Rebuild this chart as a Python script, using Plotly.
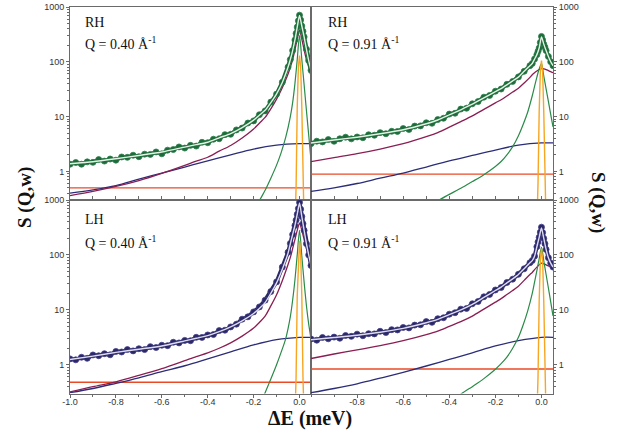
import plotly.graph_objects as go

# ---------------- data ----------------
XD = [-1.0, -0.975, -0.95, -0.925, -0.9, -0.875, -0.85, -0.825, -0.8, -0.775,
      -0.75, -0.725, -0.7, -0.675, -0.65, -0.625, -0.6, -0.575, -0.55, -0.525,
      -0.5, -0.475, -0.45, -0.425, -0.4, -0.375, -0.35, -0.325, -0.3, -0.275,
      -0.25, -0.225, -0.2, -0.175, -0.15, -0.125, -0.1, -0.075, -0.05,
      -0.04, -0.03, -0.02, -0.015, -0.01, -0.005, 0.0, 0.005, 0.01, 0.015, 0.02,
      0.03, 0.04, 0.05]
XC = [-1.0, -0.9, -0.8, -0.7, -0.6, -0.5, -0.45, -0.4, -0.35, -0.3, -0.25, -0.2,
      -0.175, -0.15, -0.125, -0.1, -0.075, -0.05, -0.04, -0.03, -0.02, -0.01, 0.0,
      0.01, 0.02, 0.03, 0.04, 0.05]
XN = [-1.0, -0.9, -0.8, -0.7, -0.6, -0.5, -0.4, -0.3, -0.2, -0.1, 0.0, 0.05]
XG = [-0.45, -0.4, -0.35, -0.3, -0.25, -0.2, -0.175, -0.15, -0.125, -0.1, -0.08,
      -0.06, -0.04, -0.03, -0.02, -0.01, 0.0, 0.01, 0.02, 0.03, 0.04, 0.05]
XO = [-0.02, -0.015, -0.01, -0.005, 0.0, 0.005, 0.01, 0.015, 0.02]
XE = [-1.0, 0.05]

# RH, Q = 0.40
TL_DATA = [1.35, 1.45, 1.35, 1.49, 1.46, 1.64, 1.54, 1.68, 1.6, 1.83, 1.8, 1.97, 1.85,
           2.06, 2.04, 2.26, 2.09, 2.44, 2.5, 2.79, 2.66, 2.98, 2.89, 3.39, 3.33, 3.86,
           3.94, 4.68, 4.75, 5.71, 6.17, 7.62, 8.34, 10.8, 12.7, 18.4, 25.7, 42.4, 80,
           110, 160, 250, 330, 430, 560, 710, 580, 450, 360, 285, 170, 105, 70]
TL_FIT = [1.38, 1.5, 1.7, 1.95, 2.25, 2.77, 3.07, 3.4, 4.1, 4.9, 6.3, 8.6, 10.6, 13,
          18, 26, 42, 80, 110, 160, 250, 430, 700, 450, 285, 170, 105, 70]
TL_MAROON = [0.36, 0.43, 0.53, 0.68, 0.92, 1.29, 1.54, 1.81, 2.34, 2.97, 4.06, 5.93,
             7.57, 9.63, 13.8, 20.8, 33.6, 60, 80, 110, 165, 260, 380, 260, 165, 110,
             80, 55]
TL_NAVY = [0.4, 0.46, 0.55, 0.72, 0.93, 1.2, 1.55, 2.0, 2.55, 3.0, 3.2, 3.2]
TL_GREEN = [0.005, 0.01, 0.02, 0.04, 0.08, 0.17, 0.29, 0.45, 0.75, 1.3, 2.2, 4.2, 10,
            18, 40, 110, 300, 110, 38, 13, 4.6, 1.6]
TL_ORANGE = [0.1, 0.5, 15, 80, 130, 80, 15, 0.5, 0.1]
TL_BG = [0.5, 0.5]

# RH, Q = 0.91
TR_DATA = [3.2, 3.55, 3.45, 3.8, 3.54, 3.93, 4.2, 3.92, 4.24, 4.11, 4.65, 4.56, 5.09,
           4.86, 5.38, 5.34, 6.04, 5.81, 6.7, 6.76, 7.7, 7.54, 8.82, 9.31, 11.1, 11.5,
           13.7, 14.2, 17.1, 18.8, 22.6, 24.3, 29.0, 31.8, 38.8, 43.8, 53, 67, 85,
           93, 112, 135, 155, 178, 225, 290, 250, 210, 185, 160, 125, 100, 85]
TR_FIT = [3.3, 3.73, 4.2, 4.85, 5.75, 7.4, 8.65, 10.7, 13.3, 16.8, 21.9, 28.4, 32.4,
          38, 44.7, 52.5, 67, 85, 93, 112, 135, 178, 285, 210, 160, 125, 100, 85]
TR_MAROON = [1.5, 1.78, 2.1, 2.55, 3.2, 4.3, 5.1, 6.4, 8.1, 10.3, 13.5, 17.8, 20.3,
              23.8, 28, 32.8, 41, 52, 58, 63, 68, 72, 75, 74, 72, 69, 66, 63]
TR_NAVY = [0.43, 0.5, 0.6, 0.75, 0.93, 1.2, 1.55, 1.95, 2.45, 3.0, 3.3, 3.3]
TR_GREEN = [0.29, 0.38, 0.49, 0.65, 0.87, 1.23, 1.51, 2.0, 2.82, 4.47, 7.1, 12, 24,
            35.5, 52.5, 74, 93, 55, 32, 19, 11, 6.5]
TR_ORANGE = [0.1, 0.6, 12, 65, 105, 65, 12, 0.6, 0.1]
TR_BG = [0.89, 0.89]

# LH, Q = 0.40
BL_DATA = [1.28, 1.23, 1.37, 1.31, 1.51, 1.46, 1.59, 1.52, 1.75, 1.71, 1.89, 1.79, 1.96,
           1.89, 2.14, 2.06, 2.27, 2.23, 2.57, 2.5, 2.78, 2.74, 3.16, 3.15, 3.49, 3.55,
           4.19, 4.26, 4.89, 5.49, 6.76, 7.47, 9.18, 11.3, 15, 21.5, 32.3, 60, 112,
           162, 235, 343, 430, 550, 700, 900, 680, 500, 370, 280, 160, 100, 64]
BL_FIT = [1.25, 1.44, 1.68, 1.92, 2.2, 2.73, 3.04, 3.39, 4.0, 4.9, 6.3, 8.6, 10.6,
          13.5, 20, 31, 55, 108, 160, 235, 343, 550, 880, 500, 280, 160, 100, 64]
BL_MAROON = [0.32, 0.4, 0.49, 0.64, 0.85, 1.19, 1.41, 1.65, 2.0, 2.51, 3.32, 4.65, 5.9,
             7.7, 11.8, 18.8, 34, 67, 90, 130, 190, 280, 380, 280, 190, 130, 90, 55]
BL_NAVY = [0.31, 0.37, 0.46, 0.58, 0.75, 0.96, 1.28, 1.72, 2.3, 2.87, 3.15, 3.15]
BL_GREEN = [0.005, 0.01, 0.02, 0.03, 0.05, 0.1, 0.18, 0.31, 0.55, 1.0, 1.7, 3.0, 7.5,
            15, 35, 100, 280, 95, 32, 12, 5.5, 3.0]
BL_ORANGE = [0.1, 0.6, 18, 100, 180, 100, 18, 0.6, 0.1]
BL_BG = [0.48, 0.48]

# LH, Q = 0.91
BR_DATA = [2.95, 2.8, 3.14, 2.97, 3.19, 3.04, 3.41, 3.29, 3.61, 3.38, 3.68, 3.65, 4.07,
           3.86, 4.36, 4.31, 4.78, 4.69, 5.28, 5.34, 6.11, 5.92, 6.9, 7.19, 8.34, 8.86,
           10.3, 10.6, 12.9, 14.2, 17.3, 19.1, 23, 25.5, 31.5, 36.2, 44.4, 56, 72,
           79, 95, 141, 172, 209, 260, 320, 255, 200, 160, 126, 89, 71, 60]
BR_FIT = [2.86, 3.13, 3.44, 3.91, 4.6, 5.82, 6.7, 8.18, 9.98, 12.6, 16.8, 22.5, 26,
          30.9, 36.6, 44, 56, 72, 79, 95, 141, 209, 310, 200, 126, 89, 71, 60]
BR_MAROON = [1.3, 1.57, 1.86, 2.23, 2.74, 3.53, 4.1, 5.0, 6.1, 7.7, 10.3, 13.8, 16,
             19, 22.5, 27, 34.4, 44, 48, 54, 60, 66, 71, 69, 66, 63, 60, 57]
BR_NAVY = [0.31, 0.37, 0.45, 0.57, 0.73, 0.95, 1.25, 1.65, 2.2, 2.75, 3.16, 3.16]
BR_GREEN = [0.12, 0.18, 0.29, 0.4, 0.56, 0.83, 1.05, 1.38, 2.0, 3.16, 5.25, 9.5, 20,
            32, 52, 85, 138, 78, 44, 25, 14, 7.8]
BR_ORANGE = [0.1, 0.6, 14, 80, 130, 80, 14, 0.6, 0.1]
BR_BG = [0.84, 0.84]

SAMPLES = ["RH", "RH", "LH", "LH"]
Q_LABELS = ["Q = 0.40 Å<sup>-1</sup>", "Q = 0.91 Å<sup>-1</sup>",
            "Q = 0.40 Å<sup>-1</sup>", "Q = 0.91 Å<sup>-1</sup>"]
Y_TICKS = [1, 10, 100, 1000]
Y_TICK_TEXT = ["1", "10", "100", "1000"]
Y_MINOR = [0.4, 0.5, 0.6, 0.7, 0.8, 0.9, 2, 3, 4, 5, 6, 7, 8, 9,
           20, 30, 40, 50, 60, 70, 80, 90, 200, 300, 400, 500, 600, 700, 800, 900]
X_TICKS_LEFT = [-1.0, -0.8, -0.6, -0.4, -0.2, 0.0]
X_TICK_TEXT_LEFT = ["-1.0", "-0.8", "-0.6", "-0.4", "-0.2", "0.0"]
X_TICKS_RIGHT = [-0.8, -0.6, -0.4, -0.2, 0.0]
X_TICK_TEXT_RIGHT = ["-0.8", "-0.6", "-0.4", "-0.2", "0.0"]
X_MINOR = [-1.0, -0.9, -0.8, -0.7, -0.6, -0.5, -0.4, -0.3, -0.2, -0.1, 0.0]

# ---------------- styling ----------------
SERIF = "Liberation Serif, Times New Roman, serif"
SANS = "Liberation Sans, Arial, sans-serif"
C_RED = "#ea4a26"
C_NAVY = "#2b2d78"
C_MAROON = "#8a1e52"
C_GREEN = "#2a8a48"
C_ORANGE = "#f6a623"
C_AXIS = "#6a6a6a"

panels = [
    dict(data=TL_DATA, fit=TL_FIT, maroon=TL_MAROON, navy=TL_NAVY, green=TL_GREEN,
         orange=TL_ORANGE, bg=TL_BG, x="x", y="y", mk="#1d6a3a", mkl="#2f7f4c", fitc="#e3f2e3"),
    dict(data=TR_DATA, fit=TR_FIT, maroon=TR_MAROON, navy=TR_NAVY, green=TR_GREEN,
         orange=TR_ORANGE, bg=TR_BG, x="x2", y="y2", mk="#1d6a3a", mkl="#2f7f4c", fitc="#e3f2e3"),
    dict(data=BL_DATA, fit=BL_FIT, maroon=BL_MAROON, navy=BL_NAVY, green=BL_GREEN,
         orange=BL_ORANGE, bg=BL_BG, x="x3", y="y3", mk="#2a2966", mkl="#45408a", fitc="#e0dcf0"),
    dict(data=BR_DATA, fit=BR_FIT, maroon=BR_MAROON, navy=BR_NAVY, green=BR_GREEN,
         orange=BR_ORANGE, bg=BR_BG, x="x4", y="y4", mk="#2a2966", mkl="#45408a", fitc="#e0dcf0"),
]

fig = go.Figure()
for p in panels:
    ax = dict(xaxis=p["x"], yaxis=p["y"], showlegend=False, hoverinfo="skip")
    fig.add_trace(go.Scatter(x=XE, y=p["bg"], mode="lines",
                             line=dict(color=C_RED, width=1.4), **ax))
    fig.add_trace(go.Scatter(x=XN, y=p["navy"], mode="lines",
                             line=dict(color=C_NAVY, width=1.3, shape="spline", smoothing=1), **ax))
    fig.add_trace(go.Scatter(x=XC, y=p["maroon"], mode="lines",
                             line=dict(color=C_MAROON, width=1.3, shape="spline", smoothing=0.8), **ax))
    fig.add_trace(go.Scatter(x=XD, y=p["data"], mode="lines+markers",
                             line=dict(color=p["mk"], width=4),
                             marker=dict(symbol="circle", size=6, color=p["mk"],
                                         line=dict(color=p["mkl"], width=0.8)), **ax))
    fig.add_trace(go.Scatter(x=XC, y=p["fit"], mode="lines",
                             line=dict(color=p["fitc"], width=1.4, shape="spline", smoothing=0.6), **ax))
    fig.add_trace(go.Scatter(x=XG, y=p["green"], mode="lines",
                             line=dict(color=C_GREEN, width=1.2, shape="spline", smoothing=0.8), **ax))
    fig.add_trace(go.Scatter(x=XO, y=p["orange"], mode="lines",
                             line=dict(color=C_ORANGE, width=1.4), **ax))

W, H = 622, 443
XL = [70 / W, 311 / W]
XR = [311 / W, 553 / W]
YT = [1 - 200 / H, 1 - 7 / H]
YB = [1 - 393.5 / H, 1 - 200 / H]
YRANGE = [-0.523, 3.0]
XRANGE = [-1.0, 0.05]

tickfont = dict(family=SANS, size=9, color="#333333")

def xax(domain, anchor, labels, vals=None, text=None):
    d = dict(domain=domain, anchor=anchor, range=XRANGE, showgrid=False, zeroline=False,
             showline=True, linecolor=C_AXIS, linewidth=1, mirror=True, automargin=False,
             tickfont=tickfont, tickcolor=C_AXIS)
    if labels:
        d.update(tickmode="array", tickvals=vals, ticktext=text, ticks="outside", ticklen=3,
                 ticklabelstandoff=-3,
                 minor=dict(tickmode="array", tickvals=X_MINOR, ticks="outside",
                            ticklen=2, tickcolor=C_AXIS))
    else:
        d.update(tickmode="array", tickvals=X_MINOR, ticks="inside", ticklen=4,
                 showticklabels=False)
    return d

def yax(domain, anchor, side):
    return dict(domain=domain, anchor=anchor, type="log", range=YRANGE, side=side,
                showgrid=False, zeroline=False, showline=True, linecolor=C_AXIS,
                linewidth=1, mirror=True, automargin=False, tickmode="array",
                tickvals=Y_TICKS, ticktext=Y_TICK_TEXT, ticks="outside", ticklen=3,
                tickcolor=C_AXIS, tickfont=tickfont,
                minor=dict(tickmode="array", tickvals=Y_MINOR, ticks="outside",
                           ticklen=2, tickcolor=C_AXIS))

annotations = []
pos = [(83, 22, 43), (326, 22, 43), (83, 220, 242), (326, 220, 242)]
for (px, y1, y2), s, q in zip(pos, SAMPLES, Q_LABELS):
    annotations.append(dict(x=px / W, y=1 - y1 / H, xref="paper", yref="paper", text=s,
                            showarrow=False, xanchor="left", yanchor="middle",
                            font=dict(family=SERIF, size=14, color="#111111")))
    annotations.append(dict(x=px / W, y=1 - y2 / H, xref="paper", yref="paper", text=q,
                            showarrow=False, xanchor="left", yanchor="middle",
                            font=dict(family=SERIF, size=14, color="#111111")))
annotations.append(dict(x=12 / W, y=1 - 198 / H, xref="paper", yref="paper",
                        text="<b>S (Q,w)</b>", textangle=-90, showarrow=False,
                        font=dict(family=SERIF, size=19, color="#111111")))
annotations.append(dict(x=611 / W, y=1 - 202 / H, xref="paper", yref="paper",
                        text="<b>S (Q,w)</b>", textangle=90, showarrow=False,
                        font=dict(family=SERIF, size=19, color="#111111")))
annotations.append(dict(x=310 / W, y=1 - 431 / H, xref="paper", yref="paper",
                        text="<b>ΔE (meV)</b>", showarrow=False, borderpad=0,
                        font=dict(family=SERIF, size=20, color="#111111")))

fig.update_layout(
    template="none",
    width=W, height=H, margin=dict(l=0, r=0, t=0, b=0, pad=0), autosize=False,
    paper_bgcolor="white", plot_bgcolor="white",
    xaxis=xax(XL, "y", False), yaxis=yax(YT, "x", "left"),
    xaxis2=xax(XR, "y2", False), yaxis2=yax(YT, "x2", "right"),
    xaxis3=xax(XL, "y3", True, X_TICKS_LEFT, X_TICK_TEXT_LEFT), yaxis3=yax(YB, "x3", "left"),
    xaxis4=xax(XR, "y4", True, X_TICKS_RIGHT, X_TICK_TEXT_RIGHT), yaxis4=yax(YB, "x4", "right"),
    annotations=annotations,
)

fig.write_html("out.html", config={"displayModeBar": False},
               post_script="document.body.style.margin='0px';")
